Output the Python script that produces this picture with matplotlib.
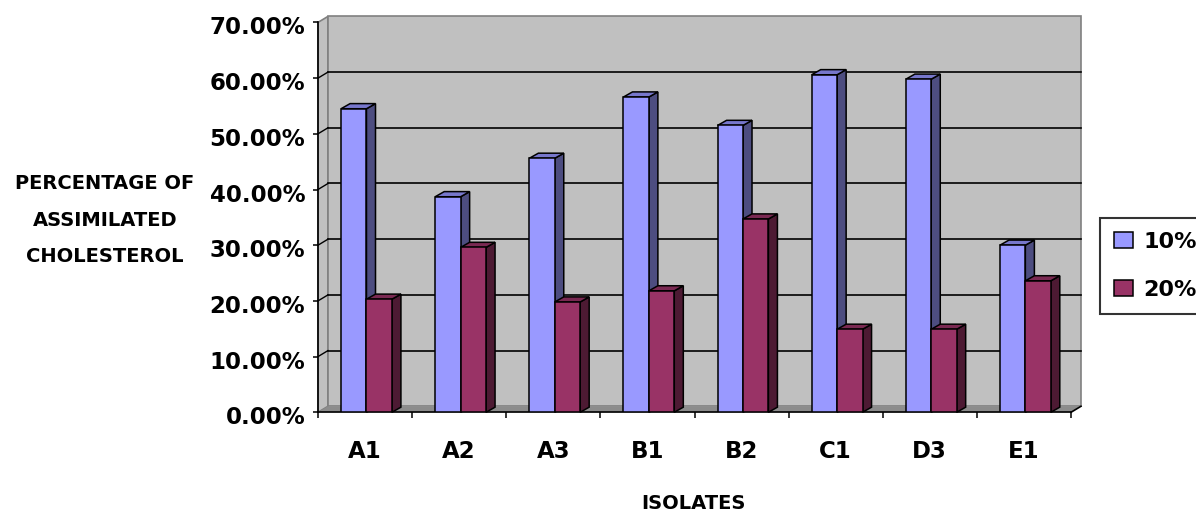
import matplotlib
matplotlib.use('Agg')
import matplotlib.pyplot as plt
from matplotlib.patches import Polygon, Patch
from matplotlib.ticker import PercentFormatter, FixedLocator, MultipleLocator
from matplotlib.transforms import ScaledTranslation

# cholesterol assimilation per isolate at two concentrations
isolates = ['A1', 'A2', 'A3', 'B1', 'B2', 'C1', 'D3', 'E1']
conc_10 = [0.545, 0.387, 0.456, 0.566, 0.515, 0.606, 0.598, 0.300]
conc_20 = [0.203, 0.296, 0.198, 0.218, 0.347, 0.149, 0.149, 0.236]
series_names = ['10%', '20%']

plt.rcParams['font.family'] = 'DejaVu Sans'
plt.rcParams['font.weight'] = 'bold'

W, H = 1196, 512
fig = plt.figure(figsize=(W / 100, H / 100), dpi=100)
ax = fig.add_axes([318 / W, 99.7 / H, 753 / W, 389.9 / H])

n = len(isolates)
ymax = 0.70
ax.set_xlim(0, n)
ax.set_ylim(0, ymax)
ax.patch.set_visible(False)

# depth offsets for the fake 3-D look (data units)
wall_dx, wall_dy = 0.106, 0.0108
bar_dx, bar_dy = 0.096, 0.0092

wall_grey = '#C0C0C0'
edge_grey = '#808080'

# side wall, back wall and floor
ax.add_patch(Polygon([(0, 0), (wall_dx, wall_dy), (wall_dx, ymax + wall_dy), (0, ymax)],
                     closed=True, fc=wall_grey, ec=edge_grey, lw=1.2, clip_on=False, zorder=0.5))
ax.add_patch(Polygon([(wall_dx, wall_dy), (n + wall_dx, wall_dy),
                      (n + wall_dx, ymax + wall_dy), (wall_dx, ymax + wall_dy)],
                     closed=True, fc=wall_grey, ec=edge_grey, lw=1.2, clip_on=False, zorder=0.5))
ax.add_patch(Polygon([(0, 0), (n, 0), (n + wall_dx, wall_dy), (wall_dx, wall_dy)],
                     closed=True, fc='#8C8C8C', ec='none', clip_on=False, zorder=0.6))
ax.plot([n, n + wall_dx], [0, wall_dy], color='black', lw=1.2, clip_on=False, zorder=0.7)

# gridlines on the back wall plus their short runs across the side wall
for v in [0.1, 0.2, 0.3, 0.4, 0.5, 0.6]:
    ax.plot([wall_dx, n + wall_dx], [v + wall_dy, v + wall_dy], color='black', lw=1.2,
            clip_on=False, zorder=1)
    ax.plot([0, wall_dx], [v, v + wall_dy], color='black', lw=1.0, clip_on=False, zorder=1)

bar_w = 0.27
x_blue = [i + 0.245 for i in range(n)]
x_red = [i + 0.245 + bar_w for i in range(n)]

styles = [
    ('#9999FF', '#4D4D80', '#7777CC'),
    ('#993366', '#4D1A33', '#7A2952'),
]

for k, (xs, vals, (front, side, top)) in enumerate(zip([x_blue, x_red], [conc_10, conc_20], styles)):
    z = 3 + k
    bars = ax.bar(xs, vals, width=bar_w, align='edge', color=front, edgecolor='black',
                  linewidth=1.1, zorder=z + 0.2, label=series_names[k])
    for p in bars.patches:
        x0, w, h = p.get_x(), p.get_width(), p.get_height()
        x1 = x0 + w
        ax.add_patch(Polygon([(x1, 0), (x1 + bar_dx, bar_dy), (x1 + bar_dx, h + bar_dy), (x1, h)],
                             closed=True, fc=side, ec='black', lw=1.1, clip_on=False, zorder=z))
        ax.add_patch(Polygon([(x0, h), (x0 + bar_dx, h + bar_dy), (x1 + bar_dx, h + bar_dy), (x1, h)],
                             closed=True, fc=top, ec='black', lw=1.1, clip_on=False, zorder=z + 0.1))

# axes lines and ticks
for s in ['top', 'right']:
    ax.spines[s].set_visible(False)
for s in ['left', 'bottom']:
    ax.spines[s].set_color('black')
    ax.spines[s].set_linewidth(1.2)
    ax.spines[s].set_zorder(2)

ax.yaxis.set_major_locator(MultipleLocator(0.1))
ax.yaxis.set_major_formatter(PercentFormatter(xmax=1, decimals=2))
ax.tick_params(axis='y', length=3.6, width=1.1, pad=5.5, labelsize=16.5, colors='black')
nudge = ScaledTranslation(0, -3 / 100, fig.dpi_scale_trans)
for lab in ax.get_yticklabels():
    lab.set_transform(lab.get_transform() + nudge)

ax.set_xticks([i + 0.5 for i in range(n)])
ax.set_xticklabels(isolates)
ax.xaxis.set_minor_locator(FixedLocator(list(range(n + 1))))
ax.tick_params(axis='x', which='major', length=0, pad=20, labelsize=16.5)
ax.tick_params(axis='x', which='minor', length=4.3, width=1.1, direction='out')

# axis titles
for txt, yb in zip(['PERCENTAGE OF', 'ASSIMILATED', 'CHOLESTEROL'], [189, 225.5, 261.5]):
    fig.text(105 / W, 1 - yb / H, txt, ha='center', va='baseline', fontsize=14, fontweight='bold')
fig.text(693 / W, 1 - 509 / H, 'ISOLATES', ha='center', va='baseline', fontsize=14, fontweight='bold')

handles = [Patch(facecolor=s[0], edgecolor='black', linewidth=1.1) for s in styles]
leg = fig.legend(handles, series_names, loc='lower left',
                 bbox_to_anchor=(1100 / W, 1 - 314 / H), bbox_transform=fig.transFigure,
                 borderaxespad=0, frameon=True, fancybox=False, fontsize=16,
                 handlelength=0.85, handleheight=0.77, handletextpad=0.45,
                 labelspacing=1.26, borderpad=0.64)
leg.get_frame().set_edgecolor('black')
leg.get_frame().set_linewidth(1.5)
for t in leg.get_texts():
    t.set_fontweight('bold')

fig.savefig('out.png', dpi=100)
